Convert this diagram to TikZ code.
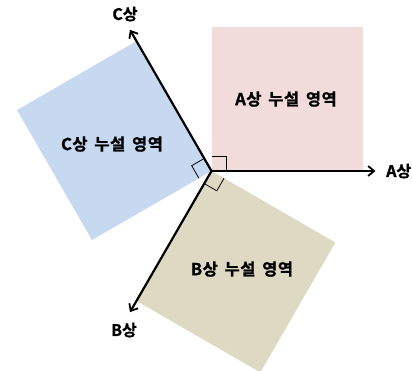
\documentclass[tikz,border=0pt]{standalone}
\usepackage{fontspec}
\newfontfamily\krfont[FakeBold=1.2,LetterSpace=3,WordSpace=1.6]{Noto Sans CJK KR Bold}
\newfontfamily\kraxfont[FakeBold=1.2]{Noto Sans CJK KR Bold}
\usetikzlibrary{arrows.meta,calc}
\definecolor{pinkA}{RGB}{242,220,219}
\definecolor{blueC}{RGB}{198,217,241}
\definecolor{khakiB}{RGB}{221,217,195}
\tikzset{
  axisline/.style={line width=2.2bp,-{Straight Barb[length=6bp,width=10bp,line width=1.8bp]}},
  marker/.style={line width=0.8bp,black},
  lbl/.style={font=\krfont\fontsize{16.5bp}{18bp}\selectfont,inner sep=0pt},
  axlbl/.style={font=\kraxfont\fontsize{16bp}{18bp}\selectfont,inner sep=0pt}
}
\begin{document}
\begin{tikzpicture}[x=1bp,y=1bp]
\useasboundingbox (0,0) rectangle (412,-371);
\clip (0,0) rectangle (412,-371);
\coordinate (O) at (211.5,-171);
% regions
\fill[pinkA] (O) -- ++(0:151) -- ++(90:144) -- ++(180:151) -- cycle;
\fill[blueC] (O) -- ++(120:150) -- ++(210:138) -- ++(300:150) -- cycle;
\fill[khakiB] (O) -- ++(240:150) -- ++(330:143) -- ++(60:150) -- cycle;
% right-angle markers
\draw[marker] ($(O)+(0:14.5)$) -- ++(90:14.5) -- ++(180:14.5);
\draw[marker] ($(O)+(120:14.5)$) -- ++(210:14.5) -- ++(300:14.5);
\draw[marker] ($(O)+(240:14.5)$) -- ++(330:14.5) -- ++(60:14.5);
% axes
\coordinate (Atip) at ($(O)+(0:164)$);
\coordinate (Ctip) at ($(O)+(120:163)$);
\coordinate (Btip) at ($(O)+(240:163)$);
\draw[axisline] (O) -- (Atip);
\draw[axisline] (O) -- (Ctip);
\draw[axisline] (O) -- (Btip);
% labels
\node[axlbl,anchor=west] (Alab) at (386,-171) {A상};
\node[axlbl] (Clab) at (125,-14) {C상};
\node[axlbl] (Blab) at (124,-330) {B상};
\node[lbl] (Areg) at (286,-99) {A상 누설 영역};
\node[lbl] (Creg) at (112,-144) {C상 누설 영역};
\node[lbl] (Breg) at (242,-269) {B상 누설 영역};
\end{tikzpicture}
\end{document}
